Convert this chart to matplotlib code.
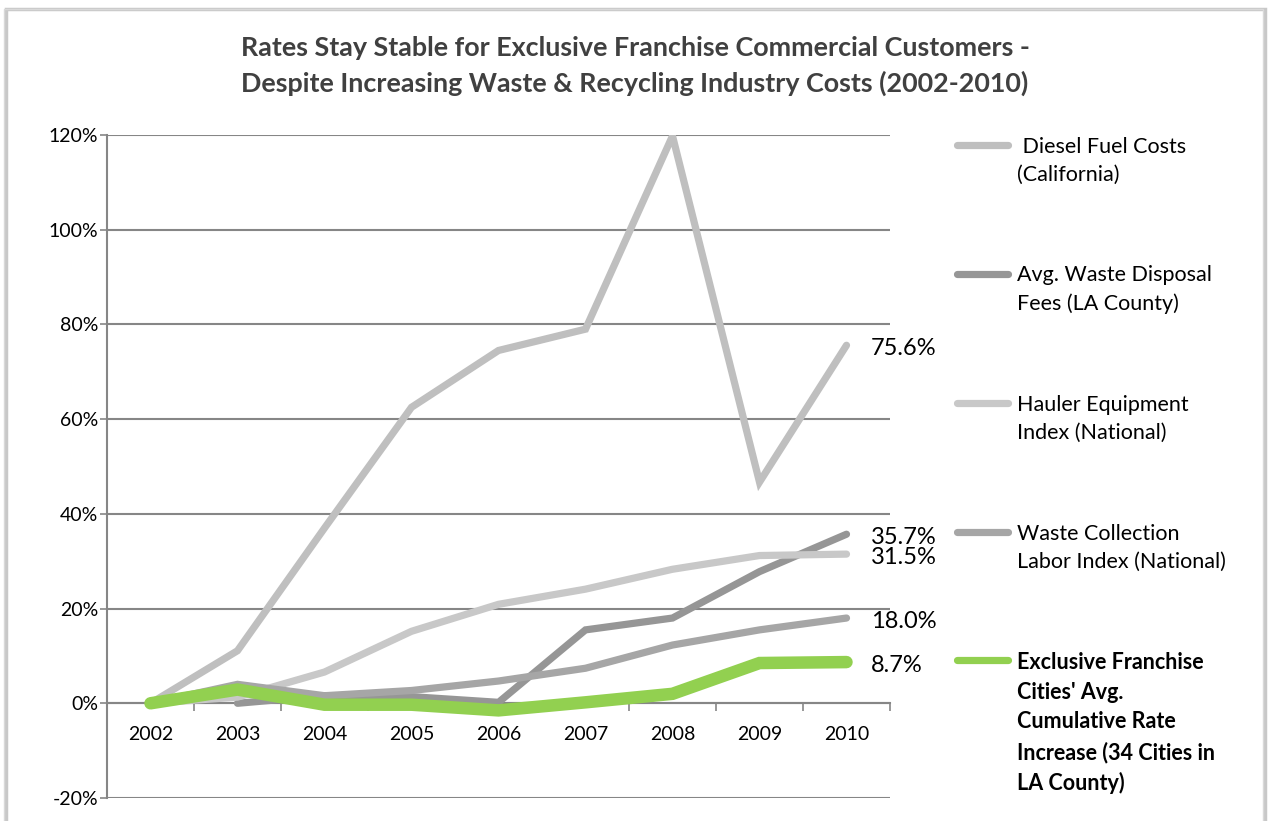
import matplotlib
matplotlib.use("Agg")
import matplotlib.pyplot as plt
from matplotlib.legend_handler import HandlerLine2D
from matplotlib.lines import Line2D
from matplotlib.patches import Rectangle
from matplotlib.font_manager import FontProperties
import numpy as np

# ---- data -------------------------------------------------------------
years = ["2002", "2003", "2004", "2005", "2006", "2007", "2008", "2009", "2010"]

diesel = [0.0, 11.1, 37.0, 62.5, 74.5, 79.0, 119.8, 46.7, 75.6]
disposal = [None, 0.0, 1.6, 1.4, 0.2, 15.5, 18.0, 27.8, 35.7]
hauler = [0.0, 1.3, 6.6, 15.2, 20.9, 24.1, 28.3, 31.2, 31.5]
labor = [0.0, 4.0, 1.6, 2.7, 4.7, 7.4, 12.3, 15.5, 18.0]
franchise = [0.0, 2.9, -0.3, -0.3, -1.5, 0.2, 2.0, 8.5, 8.7]

series_names = [
    " Diesel Fuel Costs\n(California)",
    "Avg. Waste Disposal\nFees (LA County)",
    "Hauler Equipment\nIndex (National)",
    "Waste Collection\nLabor Index (National)",
    "Exclusive Franchise\nCities' Avg.\nCumulative Rate\nIncrease (34 Cities in\nLA County)",
]
y_ticks = [-20, 0, 20, 40, 60, 80, 100, 120]

title = ("Rates Stay Stable for Exclusive Franchise Commercial Customers -\n"
         "Despite Increasing Waste & Recycling Industry Costs (2002-2010)")

# ---- styling ----------------------------------------------------------
FONT = ["Lato", "DejaVu Sans"]
plt.rcParams["font.family"] = FONT
GRID = "#868686"

styles = [
    dict(color="#bfbfbf", lw=5.2),
    dict(color="#969696", lw=5.2),
    dict(color="#c8c8c8", lw=5.2),
    dict(color="#a6a6a6", lw=5.2),
    dict(color="#92d050", lw=9.0),
]

W, H = 1270, 821
fig = plt.figure(figsize=(W / 100, H / 100), dpi=100)
fig.patch.set_facecolor("white")

# chart frame with a soft shadow
fig.add_artist(Rectangle((6 / W, -0.01), (1259 / W), 1 - 6 / H + 0.01 - 3 / H,
                         transform=fig.transFigure, fill=False,
                         edgecolor="#c8c8c8", lw=2.5, zorder=0))
fig.add_artist(Rectangle((4 / W, -0.01), (1259 / W), 1 - 6 / H + 0.01 - 3 / H,
                         transform=fig.transFigure, fill=False,
                         edgecolor="#d9d9d9", lw=1.0, zorder=0))

left, right, top, bottom = 107, 890, 135, 798
ax = fig.add_axes([left / W, 1 - bottom / H, (right - left) / W, (bottom - top) / H])

x = np.arange(len(years))


def to_arr(vals):
    return np.array([np.nan if v is None else v for v in vals], dtype=float)


data = [diesel, disposal, hauler, labor, franchise]
lines = []
for vals, st, name in zip(data, styles, series_names):
    (ln,) = ax.plot(x, to_arr(vals), color=st["color"], lw=st["lw"],
                    solid_capstyle="round", solid_joinstyle="miter",
                    label=name, zorder=3)
    lines.append(ln)

# value labels at the last point
for vals in data:
    v = vals[-1]
    ax.annotate(f"{v:.1f}%", xy=(x[-1], v), xytext=(17.5, -2.5),
                textcoords="offset points", va="center", ha="left",
                fontsize=17, color="black", annotation_clip=False)

ax.set_xlim(-0.5, len(years) - 0.5)
ax.set_ylim(-20, 120)
ax.set_yticks(y_ticks)
ax.set_yticklabels([f"{t}%" for t in y_ticks])
ax.grid(axis="y", color=GRID, lw=1.5, zorder=1)
ax.set_axisbelow(True)

ax.spines["top"].set_visible(False)
ax.spines["right"].set_visible(False)
ax.spines["left"].set_color(GRID)
ax.spines["left"].set_linewidth(1.5)
ax.spines["bottom"].set_position(("data", 0))
ax.spines["bottom"].set_color(GRID)
ax.spines["bottom"].set_linewidth(1.5)

ax.set_xticks(x)
ax.set_xticklabels(years)
ax.set_xticks(np.arange(-0.5, len(years), 1.0), minor=True)
ax.tick_params(axis="x", which="major", length=0, pad=16, labelsize=14)
ax.tick_params(axis="x", which="minor", length=6, width=1.2, color=GRID, direction="out")
ax.tick_params(axis="y", length=5, width=1.2, color=GRID, labelsize=14, pad=1.5)

fig.suptitle(title, x=0.5, y=1 - 36 / H, va="top", fontsize=19.4, fontweight="bold",
             color="#404040", linespacing=1.5)


class FirstLineHandler(HandlerLine2D):
    """Line key aligned with the first line of a multi-line label."""

    def __init__(self, shift, **kw):
        super().__init__(**kw)
        self.shift = shift

    def create_artists(self, legend, orig_handle, xdescent, ydescent,
                       width, height, fontsize, trans):
        arts = super().create_artists(legend, orig_handle, xdescent, ydescent,
                                      width, height, fontsize, trans)
        for a in arts:
            if isinstance(a, Line2D):
                a.set_ydata(np.asarray(a.get_ydata()) + self.shift)
                a.set_linewidth(5.2)
                a.set_solid_capstyle("round")
        return arts


LEG_FS = 15.5
LINESP = 1.5
renderer = fig.canvas.get_renderer()
_, lp_h, lp_d = renderer.get_text_width_height_descent(
    "lp", FontProperties(family=FONT, size=LEG_FS), ismath=False)
pitch_pts = (lp_h - lp_d) * LINESP * 72.0 / fig.dpi

hmap = {ln: FirstLineHandler(name.count("\n") * (pitch_pts / 2.0 + 2.9))
        for ln, name in zip(lines, series_names)}
leg = fig.legend(handles=lines, labels=series_names, handler_map=hmap,
                 loc="upper left", bbox_to_anchor=(948 / W, 1 - 128 / H),
                 frameon=False, fontsize=LEG_FS, handlelength=2.37,
                 handletextpad=0.42, labelspacing=3.75, borderaxespad=0)
for t in leg.get_texts():
    t.set_linespacing(LINESP)
leg.get_texts()[-1].set_fontweight("bold")

fig.savefig("out.png", dpi=100, facecolor="white")
